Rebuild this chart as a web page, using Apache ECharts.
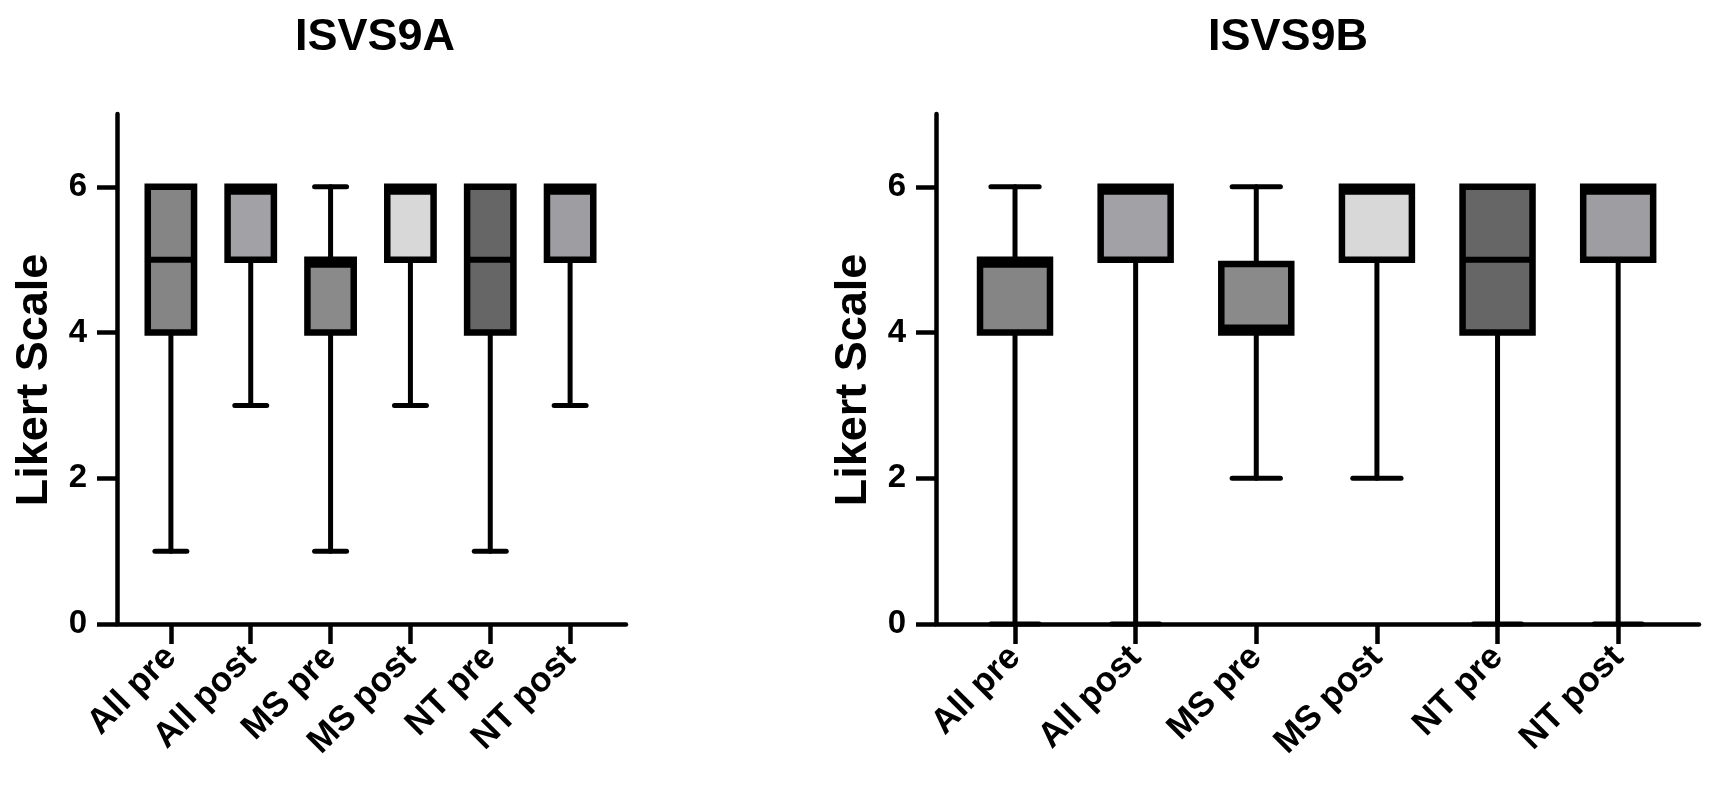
<!DOCTYPE html>
<html>
<head>
<meta charset="utf-8">
<script src="https://cdn.jsdelivr.net/npm/echarts@6/dist/echarts.min.js"></script>
<style>
  html, body { margin: 0; padding: 0; background: #fff; }
  #main { width: 1713px; height: 801px; }
</style>
</head>
<body>
<div id="main"></div>
<script>
window.onload = function () {
  var chart = echarts.init(document.getElementById('main'));

  const categories = ['All pre', 'All post', 'MS pre', 'MS post', 'NT pre', 'NT post'];
  const fillColors = ['#858585', '#a2a2a6', '#8a8a8a', '#d8d8d8', '#666666', '#9e9ea2'];
  const yTicks = [0, 2, 4, 6];

  // ISVS9A
  const minA = [1, 3, 1, 3, 1, 3];
  const q1A = [4, 5, 4, 5, 4, 5];
  const medA = [5, 6, 5, 6, 5, 6];
  const q3A = [6, 6, 5, 6, 6, 6];
  const maxA = [6, 6, 6, 6, 6, 6];

  // ISVS9B
  const minB = [0, 0, 2, 2, 0, 0];
  const q1B = [4, 5, 4, 5, 4, 5];
  const medB = [5, 6, 4, 6, 5, 6];
  const q3B = [5, 6, 4.94, 6, 6, 6];
  const maxB = [6, 6, 6, 6, 6, 6];

  const font = '"Liberation Sans", Arial, sans-serif';

  const buildData = (mins, q1s, meds, q3s, maxs) =>
    categories.map((c, i) => [i, mins[i], q1s[i], meds[i], q3s[i], maxs[i]]);

  const renderBox = (params, api) => {
    const i = api.value(0);
    const vMin = api.value(1), vQ1 = api.value(2), vMed = api.value(3);
    const vQ3 = api.value(4), vMax = api.value(5);
    const unit = api.size([1, 0])[0];
    const half = unit * 0.29;
    const capHalf = unit * 0.2;
    const cx = api.coord([i, 0])[0];
    const y = (v) => api.coord([i, v])[1];
    const wStyle = { stroke: '#000', lineWidth: 5, lineCap: 'round' };
    const kids = [];

    if (vMax > vQ3) {
      kids.push({ type: 'line', shape: { x1: cx, y1: y(vQ3), x2: cx, y2: y(vMax) }, style: wStyle });
      kids.push({ type: 'line', shape: { x1: cx - capHalf, y1: y(vMax), x2: cx + capHalf, y2: y(vMax) }, style: wStyle });
    }
    if (vMin < vQ1) {
      kids.push({ type: 'line', shape: { x1: cx, y1: y(vQ1), x2: cx, y2: y(vMin) }, style: wStyle });
      kids.push({ type: 'line', shape: { x1: cx - capHalf, y1: y(vMin), x2: cx + capHalf, y2: y(vMin) }, style: wStyle });
    }

    const top = y(vQ3), bottom = y(vQ1);
    kids.push({
      type: 'rect',
      shape: { x: cx - half, y: top, width: half * 2, height: bottom - top },
      style: { fill: fillColors[params.dataIndex], stroke: '#000', lineWidth: 6.5 }
    });

    // median sits inside the box border when it equals a quartile
    let ym = y(vMed);
    ym = Math.min(Math.max(ym, top + 5), bottom - 5);
    kids.push({ type: 'line', shape: { x1: cx - half, y1: ym, x2: cx + half, y2: ym }, style: { stroke: '#000', lineWidth: 6 } });

    return { type: 'group', children: kids };
  };

  const xAxisBase = (idx, min, max) => ({
    gridIndex: idx,
    type: 'value',
    min: min,
    max: max,
    axisLine: { show: true, lineStyle: { color: '#000', width: 4.5 } },
    axisTick: { show: true, customValues: [0, 1, 2, 3, 4, 5], length: 20, lineStyle: { color: '#000', width: 4.5 } },
    axisLabel: {
      customValues: [0, 1, 2, 3, 4, 5],
      formatter: (v) => categories[Math.round(v)],
      rotate: 45,
      margin: 28,
      color: '#000',
      fontFamily: font,
      fontWeight: 'bold',
      fontSize: 35
    },
    splitLine: { show: false }
  });

  const yAxisBase = (idx) => ({
    gridIndex: idx,
    type: 'value',
    min: 0,
    max: 7,
    name: 'Likert Scale',
    nameLocation: 'middle',
    nameGap: 60,
    nameTextStyle: { color: '#000', fontFamily: font, fontWeight: 'bold', fontSize: 45, padding: [0, 22, 0, 0] },
    axisLine: { show: true, onZero: false, lineStyle: { color: '#000', width: 4.5 } },
    axisTick: { show: true, customValues: yTicks, length: 20, lineStyle: { color: '#000', width: 4.5 } },
    axisLabel: {
      customValues: yTicks,
      margin: 30,
      color: '#000',
      fontFamily: font,
      fontWeight: 'bold',
      fontSize: 33
    },
    splitLine: { show: false }
  });

  var option = {
    animation: false,
    title: [
      {
        text: 'ISVS9A', left: 370, top: 10, textAlign: 'center',
        textStyle: { color: '#000', fontFamily: font, fontWeight: 'bold', fontSize: 45 }
      },
      {
        text: 'ISVS9B', left: 1283, top: 10, textAlign: 'center',
        textStyle: { color: '#000', fontFamily: font, fontWeight: 'bold', fontSize: 45 }
      }
    ],
    grid: [
      { left: 117, right: 1087, top: 114, bottom: 177 },
      { left: 936, right: 14, top: 114, bottom: 177 }
    ],
    xAxis: [xAxisBase(0, -0.675, 5.7), xAxisBase(1, -0.655, 5.67)],
    yAxis: [yAxisBase(0), yAxisBase(1)],
    series: [
      {
        name: 'ISVS9A',
        type: 'custom',
        xAxisIndex: 0,
        yAxisIndex: 0,
        renderItem: renderBox,
        encode: { x: 0, y: [1, 2, 3, 4, 5] },
        data: buildData(minA, q1A, medA, q3A, maxA)
      },
      {
        name: 'ISVS9B',
        type: 'custom',
        xAxisIndex: 1,
        yAxisIndex: 1,
        renderItem: renderBox,
        encode: { x: 0, y: [1, 2, 3, 4, 5] },
        data: buildData(minB, q1B, medB, q3B, maxB)
      }
    ]
  };

  chart.setOption(option);
};
</script>
</body>
</html>
